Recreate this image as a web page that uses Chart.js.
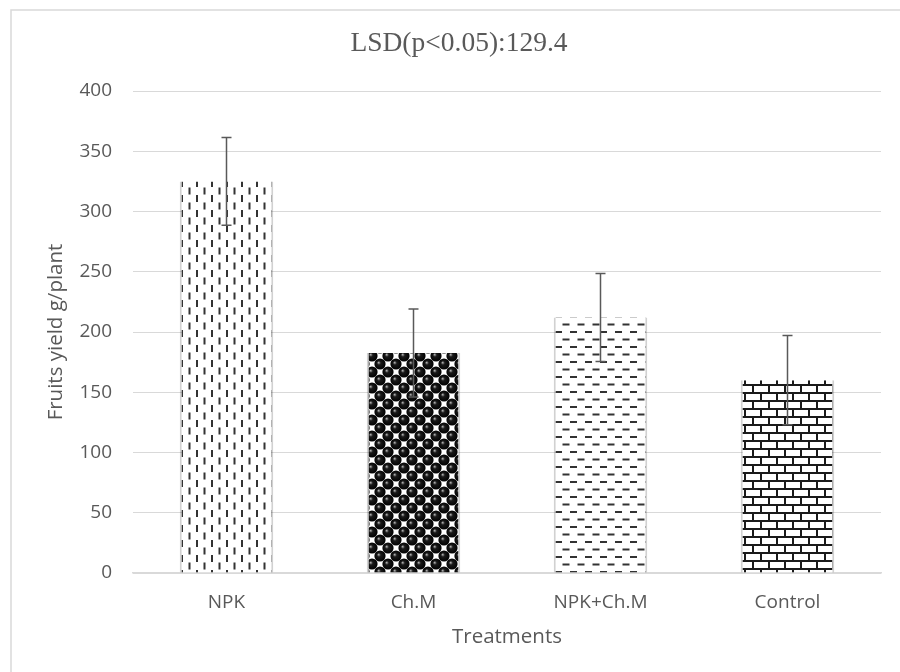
<!DOCTYPE html>
<html>
<head>
<meta charset="utf-8">
<script src="https://cdn.jsdelivr.net/npm/chart.js@4"></script>
<style>
  body { margin: 0; background: #fff; }
</style>
</head>
<body>
<canvas id="chart" width="900" height="672"></canvas>
<script>
// values
const treatments = ['NPK', 'Ch.M', 'NPK+Ch.M', 'Control'];
const yieldValues = [325, 182.5, 212, 160];
const errorValues = [36.5, 36.5, 36.5, 37];
const yTicks = [0, 50, 100, 150, 200, 250, 300, 350, 400];

// little tiles for the Excel style fills
function makeTile(size, draw) {
    const c = document.createElement('canvas');
    c.width = size; c.height = size;
    const g = c.getContext('2d');
    g.fillStyle = '#fff';
    g.fillRect(0, 0, size, size);
    draw(g);
    return document.getElementById('chart').getContext('2d').createPattern(c, 'repeat');
}

// vertical dashes
const vDash = makeTile(15, g => {
    g.fillStyle = '#333';
    g.fillRect(1, 0, 2, 7);
    g.fillRect(8.5, 7.5, 2, 7);
});

// black balls
const balls = makeTile(16, g => {
    [[4, 4], [12, 12], [-4, 12], [20, 4], [12, -4], [4, 20], [-4, -4], [20, 20], [-4, 20], [20, -4]].forEach(([x, y]) => {
        const rg = g.createRadialGradient(x - 1.5, y - 1.5, 0.3, x, y, 5.6);
        rg.addColorStop(0, '#aaa');
        rg.addColorStop(0.3, '#1a1a1a');
        rg.addColorStop(1, '#000');
        g.fillStyle = rg;
        g.beginPath();
        g.arc(x, y, 5.6, 0, Math.PI * 2);
        g.fill();
    });
});

// horizontal dashes
const hDash = makeTile(15, g => {
    g.fillStyle = '#333';
    g.fillRect(0, 1, 7, 2);
    g.fillRect(7.5, 8.5, 7, 2);
});

// bricks
const bricks = makeTile(16, g => {
    g.fillStyle = '#1a1a1a';
    g.fillRect(0, 0, 16, 2);
    g.fillRect(0, 8, 16, 2);
    g.fillRect(0, 0, 2, 8);
    g.fillRect(8, 8, 2, 8);
});

// grey frame round the whole chart
const framePlugin = {
    id: 'frame',
    beforeDraw(chart) {
        const c = chart.ctx;
        c.save();
        c.fillStyle = '#fff';
        c.fillRect(0, 0, chart.width, chart.height);
        c.strokeStyle = '#d9d9d9';
        c.lineWidth = 1.5;
        c.strokeRect(11, 10, 950, 720);
        c.restore();
    }
};

// error bars drawn from the data arrays
const errorBarPlugin = {
    id: 'errorBars',
    afterDatasetsDraw(chart) {
        const c = chart.ctx;
        const yScale = chart.scales.y;
        const meta = chart.getDatasetMeta(0);
        c.save();
        c.strokeStyle = '#595959';
        c.lineWidth = 1.5;
        meta.data.forEach((bar, i) => {
            const top = yScale.getPixelForValue(yieldValues[i] + errorValues[i]);
            const bottom = yScale.getPixelForValue(yieldValues[i] - errorValues[i]);
            c.beginPath();
            c.moveTo(bar.x, top); c.lineTo(bar.x, bottom);
            c.moveTo(bar.x - 5, top); c.lineTo(bar.x + 5, top);
            c.moveTo(bar.x - 5, bottom); c.lineTo(bar.x + 5, bottom);
            c.stroke();
        });
        c.restore();
    }
};

const tickFont = { family: '"Open Sans", sans-serif', size: 19 };
const titleFont = { family: '"Open Sans", sans-serif', size: 20.5 };

new Chart(document.getElementById('chart'), {
    type: 'bar',
    data: {
        labels: treatments,
        datasets: [{
            data: yieldValues,
            backgroundColor: [vDash, balls, hDash, bricks],
            borderColor: 'rgba(0,0,0,0.18)',
            borderWidth: { left: 2, right: 2, top: 0, bottom: 0 },
            barPercentage: 0.5,
            categoryPercentage: 1
        }]
    },
    options: {
        responsive: false,
        animation: false,
        layout: { padding: { left: 37, right: 19, top: 0, bottom: 0 } },
        plugins: {
            legend: { display: false },
            tooltip: { enabled: false },
            title: {
                display: true,
                text: 'LSD(p<0.05):129.4',
                color: '#595959',
                font: { family: '"Liberation Serif", "Times New Roman", serif', size: 27.5, weight: 'normal', lineHeight: 1.2 },
                padding: { top: 27.5, bottom: 30.5 }
            }
        },
        scales: {
            x: {
                grid: { display: false, drawTicks: false },
                border: { color: '#d9d9d9', width: 1.5 },
                ticks: { color: '#595959', font: tickFont, padding: 18 },
                title: {
                    display: true,
                    text: 'Treatments',
                    color: '#595959',
                    font: titleFont,
                    padding: { top: 0, bottom: 23 }
                },
                afterFit(scale) { scale.height = 99; }
            },
            y: {
                min: 0,
                max: 400,
                afterBuildTicks(scale) { scale.ticks = yTicks.map(v => ({ value: v })); },
                grid: { color: '#d9d9d9', lineWidth: 1, drawTicks: false },
                border: { display: false },
                ticks: { color: '#595959', font: tickFont, padding: 21 },
                title: {
                    display: true,
                    text: 'Fruits yield g/plant',
                    color: '#595959',
                    font: titleFont,
                    padding: { top: 7, bottom: 0 }
                },
                afterFit(scale) { scale.width = 96; }
            }
        }
    },
    plugins: [framePlugin, errorBarPlugin]
});
</script>
</body>
</html>
